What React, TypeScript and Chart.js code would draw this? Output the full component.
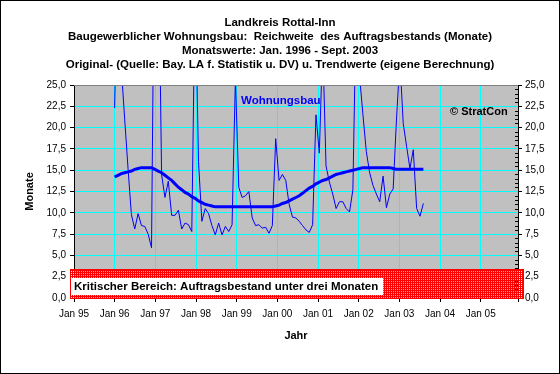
import React, { useEffect, useRef } from 'react';
import { Chart, registerables } from 'chart.js';

Chart.register(...registerables);

const titleLines = [
  'Landkreis Rottal-Inn',
  'Baugewerblicher Wohnungsbau:  Reichweite  des Auftragsbestands (Monate)',
  'Monatswerte: Jan. 1996 - Sept. 2003',
  'Original- (Quelle: Bay. LA f. Statistik u. DV) u. Trendwerte (eigene Berechnung)',
];

const seriesLabel = 'Wohnungsbau';
const copyrightLabel = '\u00A9 StratCon';
const criticalLabel = 'Kritischer Bereich: Auftragsbestand unter drei Monaten';
const xAxisTitle = 'Jahr';
const yAxisTitle = 'Monate';

const monthNames = ['Jan', 'Feb', 'Mrz', 'Apr', 'Mai', 'Jun', 'Jul', 'Aug', 'Sep', 'Okt', 'Nov', 'Dez'];
const dataYears = ['96', '97', '98', '99', '00', '01', '02', '03'];

// monthly values Jan 1996 .. Sep 2003 (months of order backlog)
const wohnungsbau = [
  22.3, 40, 27, 21, 15.2, 9.8, 8.1, 9.9, 8.5, 8.4, 7.5, 5.9,
  50, 44, 14.5, 11.8, 13.7, 9.7, 9.7, 10.3, 8.1, 8.8, 8.6, 7.8,
  37, 16, 9.0, 10.5, 9.9, 8.5, 7.4, 8.8, 7.4, 8.4, 7.8, 8.6,
  25.8, 13, 11.8, 12.0, 12.5, 9.4, 8.5, 8.6, 8.2, 8.3, 7.6, 8.5,
  18.7, 13.8, 14.5, 13.8, 11.0, 9.5, 9.4, 9.0, 8.5, 8.0, 7.7, 8.6,
  21.5, 17, 30, 15.5, 13.6, 12.2, 10.5, 11.3, 11.3, 10.5, 10.1, 12.7,
  35, 26, 21.5, 17.2, 14.7, 13.2, 12.2, 11.3, 14.3, 10.6, 12.2, 12.8,
  21, 28, 20.5, 17.8, 15.2, 17.4, 10.5, 9.6, 11.1,
];

const trendwerte = [
  14.2, 14.4, 14.6, 14.7, 14.8, 14.9, 15.1, 15.2, 15.3, 15.3, 15.3, 15.3,
  15.1, 14.9, 14.7, 14.4, 14.1, 13.8, 13.4, 13.0, 12.7, 12.4, 12.2, 11.9,
  11.7, 11.4, 11.2, 11.0, 10.9, 10.8, 10.7, 10.7, 10.7, 10.7, 10.7, 10.7,
  10.7, 10.7, 10.7, 10.7, 10.7, 10.7, 10.7, 10.7, 10.7, 10.7, 10.7, 10.7,
  10.8, 10.9, 11.1, 11.2, 11.4, 11.6, 11.8, 12.0, 12.3, 12.6, 12.9, 13.1,
  13.4, 13.6, 13.8, 13.9, 14.1, 14.3, 14.5, 14.6, 14.7, 14.8, 14.9, 15.0,
  15.1, 15.2, 15.3, 15.3, 15.3, 15.3, 15.3, 15.3, 15.3, 15.3, 15.3, 15.2,
  15.1, 15.1, 15.1, 15.1, 15.1, 15.1, 15.1, 15.1, 15.1,
];

const xTickLabels = ['Jan 95', 'Jan 96', 'Jan 97', 'Jan 98', 'Jan 99', 'Jan 00', 'Jan 01', 'Jan 02', 'Jan 03', 'Jan 04', 'Jan 05'];
const monthsPerTick = 12;
const xAxisMonths = 131; // Jan 95 .. Dec 05
const dataAxisMin = -12.1; // data axis (months from Jan 96)
const dataAxisMax = 120.2;
const yMin = 0;
const yMax = 25;
const yStep = 2.5;
const criticalLevel = 3.4;

const FONT = '"Liberation Sans", Arial, Helvetica, sans-serif';

export default function App() {
  const ref = useRef<HTMLCanvasElement>(null);

  useEffect(() => {
    document.body.style.margin = '0';
    const canvas = ref.current!;
    const categories: string[] = [];
    dataYears.forEach((y) => monthNames.forEach((m) => categories.push(m + ' ' + y)));
    categories.length = wohnungsbau.length;

    const pc = document.createElement('canvas');
    pc.width = 2;
    pc.height = 2;
    const pctx = pc.getContext('2d')!;
    pctx.fillStyle = '#ff0000';
    pctx.fillRect(0, 0, 2, 2);
    pctx.clearRect(1, 1, 1, 1);
    const pattern = canvas.getContext('2d')!.createPattern(pc, 'repeat');

    const fmt = (v: number) => Number(v).toFixed(1).replace('.', ',');

    const decor = {
      id: 'decor',
      beforeDraw(chart: any) {
        const { ctx, chartArea: a, width, height } = chart;
        ctx.save();
        ctx.fillStyle = '#ffffff';
        ctx.fillRect(0, 0, width, height);
        ctx.fillStyle = '#c0c0c0';
        ctx.fillRect(a.left, a.top, a.right - a.left, a.bottom - a.top);
        ctx.restore();
      },
      afterDraw(chart: any) {
        const { ctx, chartArea: a, scales, width, height } = chart;
        const ys = scales.y;
        ctx.save();
        // plot top border
        ctx.strokeStyle = '#808080';
        ctx.lineWidth = 1;
        ctx.beginPath();
        ctx.moveTo(a.left, Math.round(a.top) + 0.5);
        ctx.lineTo(a.right, Math.round(a.top) + 0.5);
        ctx.stroke();

        // minor ticks on right axis
        ctx.strokeStyle = '#000';
        for (let v = yMin; v <= yMax + 1e-6; v += 0.5) {
          if (Math.abs(v / yStep - Math.round(v / yStep)) < 1e-6) continue;
          const py = Math.round(ys.getPixelForValue(v)) + 0.5;
          ctx.beginPath();
          ctx.moveTo(a.right - 3, py);
          ctx.lineTo(a.right, py);
          ctx.stroke();
        }

        // critical band
        const top = Math.round(ys.getPixelForValue(criticalLevel));
        const bottom = Math.round(ys.getPixelForValue(0));
        const bl = Math.round(a.left) - 4;
        const br = Math.round(a.right) + 6;
        ctx.fillStyle = pattern as any;
        ctx.fillRect(bl, top, br - bl, bottom - top);
        ctx.strokeStyle = '#ff0000';
        ctx.strokeRect(bl + 0.5, top + 0.5, br - bl - 1, bottom - top);

        // label box
        ctx.font = 'bold 11.5px ' + FONT;
        const tw = ctx.measureText(criticalLabel).width;
        ctx.fillStyle = '#ffffff';
        ctx.fillRect(bl + 1, bottom - 20, tw + 8, 17);
        ctx.fillStyle = '#000';
        ctx.textBaseline = 'middle';
        ctx.textAlign = 'left';
        ctx.fillText(criticalLabel, bl + 4, bottom - 11);

        // titles
        ctx.textAlign = 'center';
        ctx.font = 'bold 11.5px ' + FONT;
        titleLines.forEach((t, i) => ctx.fillText(t, width / 2, 23 + i * 14));

        // axis titles
        ctx.font = 'bold 11px ' + FONT;
        ctx.fillText(xAxisTitle, (a.left + a.right) / 2, 336);
        ctx.save();
        ctx.translate(30, (a.top + a.bottom) / 2);
        ctx.rotate(-Math.PI / 2);
        ctx.fillText(yAxisTitle, 0, 0);
        ctx.restore();

        // series label and copyright
        ctx.textAlign = 'left';
        ctx.font = 'bold 11.5px ' + FONT;
        ctx.fillStyle = '#0000ff';
        ctx.fillText(seriesLabel, 241, 101);
        ctx.font = 'bold 11px ' + FONT;
        ctx.fillStyle = '#000';
        ctx.fillText(copyrightLabel, 450, 112);

        // outer frame
        ctx.strokeStyle = '#000';
        ctx.lineWidth = 1;
        ctx.strokeRect(0.5, 0.5, width - 1, height - 1);
        ctx.restore();
      },
    };

    const tickFont = { family: FONT, size: 10 };

    const chart = new Chart(canvas, {
      type: 'line',
      data: {
        datasets: [
          {
            label: 'Trend',
            data: trendwerte.map((v, i) => ({ x: i, y: v })),
            borderColor: '#0000ff',
            borderWidth: 3,
            pointRadius: 0,
            xAxisID: 'x2',
            yAxisID: 'y',
          },
          {
            label: seriesLabel,
            data: wohnungsbau.map((v, i) => ({ x: i, y: v })),
            borderColor: '#0000ff',
            borderWidth: 1,
            pointRadius: 0,
            xAxisID: 'x2',
            yAxisID: 'y',
          },
        ],
      },
      options: {
        responsive: false,
        animation: false,
        devicePixelRatio: 1,
        layout: { padding: { top: 85, bottom: 46, left: 0, right: 0 }, autoPadding: false },
        plugins: {
          legend: { display: false },
          title: { display: false },
          tooltip: { enabled: false },
        },
        elements: { line: { tension: 0 }, point: { radius: 0 } },
        scales: {
          x: {
            type: 'linear',
            position: 'bottom',
            min: 0,
            max: xAxisMonths,
            afterFit: (s: any) => {
              s.height = 30;
            },
            ticks: {
              stepSize: monthsPerTick,
              autoSkip: false,
              maxRotation: 0,
              padding: 6,
              color: '#000',
              font: tickFont,
              callback: (v: any) => xTickLabels[Math.round(v / monthsPerTick)] && v % monthsPerTick === 0 ? xTickLabels[v / monthsPerTick] : '',
            },
            grid: { color: '#00ffff', tickColor: '#000', tickLength: 4, lineWidth: 1 },
            border: { color: '#000' },
          },
          x2: {
            type: 'linear',
            display: false,
            min: dataAxisMin,
            max: dataAxisMax,
          },
          y: {
            position: 'left',
            min: yMin,
            max: yMax,
            afterFit: (s: any) => {
              s.width = 74;
            },
            ticks: { stepSize: yStep, color: '#000', font: tickFont, padding: 4, callback: (v: any) => fmt(v) },
            grid: { color: '#00ffff', tickColor: '#000', tickLength: 4 },
            border: { color: '#000' },
          },
          y2: {
            position: 'right',
            min: yMin,
            max: yMax,
            afterFit: (s: any) => {
              s.width = 42;
            },
            ticks: { stepSize: yStep, color: '#000', font: tickFont, padding: 3, callback: (v: any) => fmt(v) },
            grid: { drawOnChartArea: false, tickColor: '#000', tickLength: 4 },
            border: { color: '#000' },
          },
        },
      },
      plugins: [decor],
    } as any);

    return () => chart.destroy();
  }, []);

  return <canvas ref={ref} width={560} height={374} style={{ display: 'block' }} />;
}
